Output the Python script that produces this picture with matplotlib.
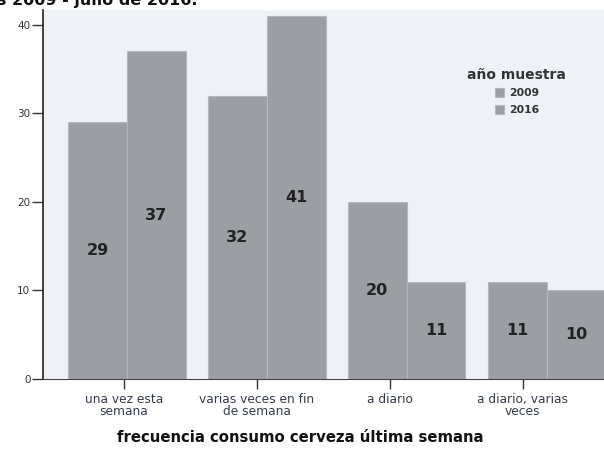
import matplotlib.pyplot as plt
import numpy as np

plt.rcParams['font.family'] = ['DejaVu Sans']

categories = ["una vez esta\nsemana", "varias veces en fin\nde semana", "a diario", "a diario, varias\nveces"]
years = ["2009", "2016"]
values_2009 = [29, 32, 20, 11]
values_2016 = [37, 41, 11, 10]
yticks = [0, 10, 20, 30, 40]

bar_color = "#9b9ea3"
bg_color = "#eef1f6"

fig = plt.figure(figsize=(6.04, 4.5), dpi=100)
ax = fig.add_axes([0.071, 0.158, 0.929, 0.82])
ax.set_facecolor(bg_color)

x = np.arange(len(categories))
w = 0.42
b1 = ax.bar(x - w / 2, values_2009, w, color=bar_color, edgecolor="#b4b7bb", linewidth=0.8, label=years[0])
b2 = ax.bar(x + w / 2, values_2016, w, color=bar_color, edgecolor="#b4b7bb", linewidth=0.8, label=years[1])

for bars, vals in ((b1, values_2009), (b2, values_2016)):
    for rect, v in zip(bars, vals):
        ax.text(rect.get_x() + rect.get_width() / 2, v / 2, str(v),
                ha="center", va="center", fontsize=11.5, fontweight="bold", color="#222222")

ax.set_xlim(-0.6, 3.41)
ax.set_ylim(0, 41.7)
ax.set_yticks(yticks)
ax.tick_params(axis="y", labelsize=7.5, length=8, width=1, colors="#333333", pad=1)
# the scanned category ticks sit a little left of the group centres
ax.set_xticks(x * 0.95 - 0.02)
ax.set_xticklabels(categories, fontsize=8.8, linespacing=0.95)
ax.tick_params(axis="x", length=7, width=1, colors="#333333", pad=3)
for lbl in ax.get_xticklabels():
    lbl.set_color("#363d4a")

for s in ("top", "right"):
    ax.spines[s].set_visible(False)
ax.spines["left"].set_color("#222222")
ax.spines["left"].set_linewidth(1.2)
ax.spines["bottom"].set_color("#444444")

ax.set_xlabel("frecuencia consumo cerveza última semana", fontsize=10.7, fontweight="bold",
              color="#111111")
ax.xaxis.set_label_coords(0.458, -0.16)
ax.xaxis.label.set_va("center")

leg = ax.legend(title="año muestra", loc="upper right", bbox_to_anchor=(0.95, 0.87),
                frameon=False, fontsize=7.8, title_fontsize=10, handlelength=0.9,
                handleheight=0.9, handletextpad=0.4, labelspacing=0.6)
leg.get_title().set_fontweight("bold")
leg.get_title().set_color("#333333")
for t in leg.get_texts():
    t.set_fontweight("bold")
    t.set_color("#333333")
leg._legend_box.align = "center"

fig.text(0.327, 1.0, "es 2009 - julio de 2016.", fontsize=11.5, fontweight="bold",
         ha="right", va="center", color="#111111")

fig.savefig("out.png", dpi=100)
